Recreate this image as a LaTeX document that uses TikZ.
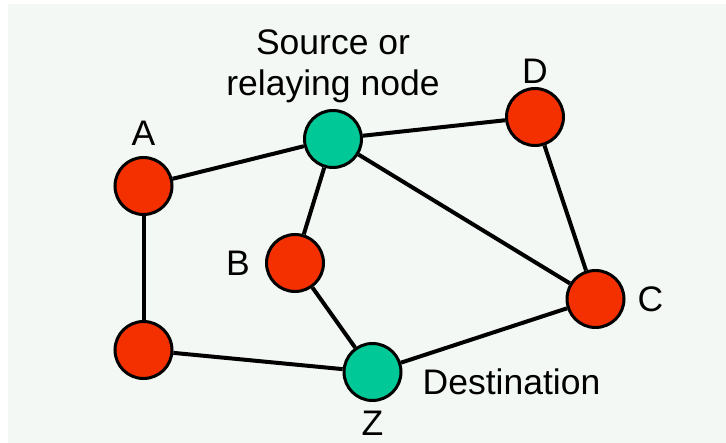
\documentclass[tikz,border=0pt]{standalone}
\usepackage{fontspec}
\setmainfont{Liberation Sans}
\usepackage{xcolor}
\usetikzlibrary{positioning}

\definecolor{panel}{HTML}{F3F8F4}
\definecolor{relay}{HTML}{00C896}
\definecolor{hop}{HTML}{F53000}

\begin{document}
\begin{tikzpicture}[x=1pt, y=-1pt,
		peer/.style={circle, draw=black, line width=3pt, minimum size=57pt, inner sep=0pt},
		lbl/.style={inner sep=0pt, font=\fontsize{35.5}{41}\selectfont},
		link/.style={line width=4pt}]
				\useasboundingbox (0,0) rectangle (726,443);
				\fill[panel] (8,4) rectangle (726,443);
				% nodes
				\node[peer, fill=hop] (a) at (143.5,186) {};
				\node[peer, fill=hop] (e) at (143.5,350) {};
				\node[peer, fill=relay] (src) at (333,139) {};
				\node[peer, fill=hop] (d) at (535,117) {};
				\node[peer, fill=hop] (b) at (295,263) {};
				\node[peer, fill=hop] (c) at (595.5,299) {};
				\node[peer, fill=relay] (z) at (372.5,372) {};
				% labels
				\node[lbl, above=10pt of a] (la) {A};
				\node[lbl, above=3pt of d] (ld) {D};
				\node[lbl, left=15pt of b] (lb) {B};
				\node[lbl, right=12pt of c] (lc) {C};
				\node[lbl, below=9pt of z] (lz) {Z};
				\node[lbl, right=20pt of z, yshift=-10pt] (ldest) {Destination};
				\node[lbl, align=center, above=6pt of src] (lsrc) {Source or\\relaying node};
				% links
				\draw[link] (a) -- (src);
				\draw[link] (src) -- (d);
				\draw[link] (src) -- (b);
				\draw[link] (src) -- (c);
				\draw[link] (d) -- (c);
				\draw[link] (a) -- (e);
				\draw[link] (e) -- (z);
				\draw[link] (b) -- (z);
				\draw[link] (z) -- (c);
			\end{tikzpicture}
\end{document}
